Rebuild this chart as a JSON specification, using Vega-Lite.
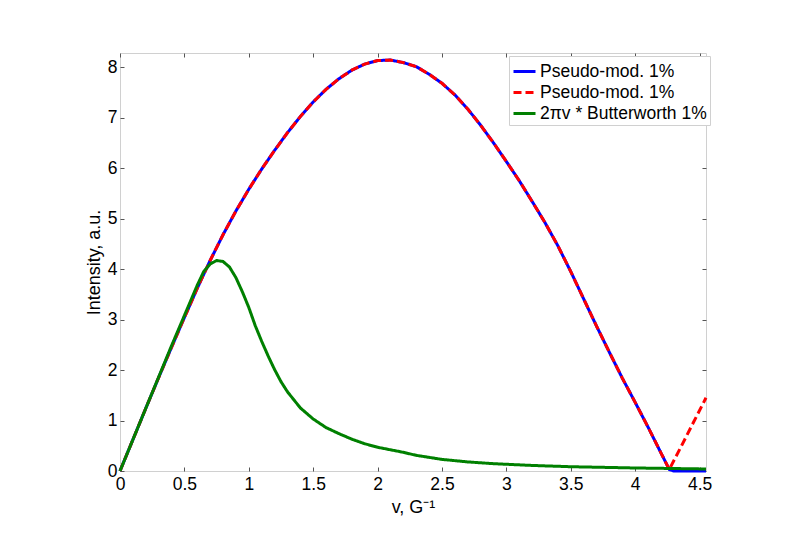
{
  "$schema": "https://vega.github.io/schema/vega-lite/v6.json",
  "width": 586,
  "height": 418,
  "autosize": {"type": "none"},
  "padding": {"left": 120, "top": 53, "right": 94, "bottom": 84},
  "background": "white",
  "config": {
    "font": "Liberation Sans",
    "view": {"stroke": "#d0d0d0", "strokeWidth": 1},
    "axis": {
      "domain": false,
      "grid": false,
      "tickColor": "#555555",
      "tickSize": -4,
      "tickWidth": 1,
      "labelFontSize": 17.5,
      "labelColor": "#000000",
      "titleFontSize": 18,
      "titleFontWeight": "normal",
      "titleColor": "#000000",
      "labelFont": "Liberation Sans",
      "titleFont": "Liberation Sans"
    }
  },
  "datasets": {
    "blue": [
      {"x": 0, "y": 0, "s": "s1"}, {"x": 0.1, "y": 0.62, "s": "s1"}, {"x": 0.2, "y": 1.24, "s": "s1"}, {"x": 0.3, "y": 1.85, "s": "s1"}, {"x": 0.4, "y": 2.45, "s": "s1"}, {"x": 0.5, "y": 3.04, "s": "s1"}, {"x": 0.6, "y": 3.62, "s": "s1"}, {"x": 0.7, "y": 4.17, "s": "s1"}, {"x": 0.8, "y": 4.68, "s": "s1"}, {"x": 0.9, "y": 5.15, "s": "s1"}, {"x": 1.0, "y": 5.58, "s": "s1"}, {"x": 1.1, "y": 5.98, "s": "s1"}, {"x": 1.2, "y": 6.35, "s": "s1"}, {"x": 1.3, "y": 6.70, "s": "s1"}, {"x": 1.4, "y": 7.02, "s": "s1"}, {"x": 1.5, "y": 7.31, "s": "s1"}, {"x": 1.6, "y": 7.56, "s": "s1"}, {"x": 1.7, "y": 7.77, "s": "s1"}, {"x": 1.8, "y": 7.94, "s": "s1"}, {"x": 1.9, "y": 8.06, "s": "s1"}, {"x": 2.0, "y": 8.13, "s": "s1"}, {"x": 2.1, "y": 8.14, "s": "s1"}, {"x": 2.2, "y": 8.09, "s": "s1"}, {"x": 2.3, "y": 8.01, "s": "s1"}, {"x": 2.4, "y": 7.86, "s": "s1"}, {"x": 2.5, "y": 7.68, "s": "s1"}, {"x": 2.6, "y": 7.45, "s": "s1"}, {"x": 2.7, "y": 7.17, "s": "s1"}, {"x": 2.8, "y": 6.85, "s": "s1"}, {"x": 2.9, "y": 6.50, "s": "s1"}, {"x": 3.0, "y": 6.13, "s": "s1"}, {"x": 3.1, "y": 5.75, "s": "s1"}, {"x": 3.2, "y": 5.34, "s": "s1"}, {"x": 3.3, "y": 4.92, "s": "s1"}, {"x": 3.4, "y": 4.46, "s": "s1"}, {"x": 3.5, "y": 3.95, "s": "s1"}, {"x": 3.6, "y": 3.41, "s": "s1"}, {"x": 3.7, "y": 2.87, "s": "s1"}, {"x": 3.8, "y": 2.35, "s": "s1"}, {"x": 3.9, "y": 1.84, "s": "s1"}, {"x": 4.0, "y": 1.36, "s": "s1"}, {"x": 4.1, "y": 0.87, "s": "s1"}, {"x": 4.2, "y": 0.36, "s": "s1"}, {"x": 4.265, "y": 0.03, "s": "s1"}, {"x": 4.3, "y": 0.0, "s": "s1"}, {"x": 4.55, "y": 0.0, "s": "s1"}
    ],
    "red": [
      {"x": 0, "y": 0, "s": "s2"}, {"x": 0.1, "y": 0.62, "s": "s2"}, {"x": 0.2, "y": 1.24, "s": "s2"}, {"x": 0.3, "y": 1.85, "s": "s2"}, {"x": 0.4, "y": 2.45, "s": "s2"}, {"x": 0.5, "y": 3.04, "s": "s2"}, {"x": 0.6, "y": 3.62, "s": "s2"}, {"x": 0.7, "y": 4.17, "s": "s2"}, {"x": 0.8, "y": 4.68, "s": "s2"}, {"x": 0.9, "y": 5.15, "s": "s2"}, {"x": 1.0, "y": 5.58, "s": "s2"}, {"x": 1.1, "y": 5.98, "s": "s2"}, {"x": 1.2, "y": 6.35, "s": "s2"}, {"x": 1.3, "y": 6.70, "s": "s2"}, {"x": 1.4, "y": 7.02, "s": "s2"}, {"x": 1.5, "y": 7.31, "s": "s2"}, {"x": 1.6, "y": 7.56, "s": "s2"}, {"x": 1.7, "y": 7.77, "s": "s2"}, {"x": 1.8, "y": 7.94, "s": "s2"}, {"x": 1.9, "y": 8.06, "s": "s2"}, {"x": 2.0, "y": 8.13, "s": "s2"}, {"x": 2.1, "y": 8.14, "s": "s2"}, {"x": 2.2, "y": 8.09, "s": "s2"}, {"x": 2.3, "y": 8.01, "s": "s2"}, {"x": 2.4, "y": 7.86, "s": "s2"}, {"x": 2.5, "y": 7.68, "s": "s2"}, {"x": 2.6, "y": 7.45, "s": "s2"}, {"x": 2.7, "y": 7.17, "s": "s2"}, {"x": 2.8, "y": 6.85, "s": "s2"}, {"x": 2.9, "y": 6.50, "s": "s2"}, {"x": 3.0, "y": 6.13, "s": "s2"}, {"x": 3.1, "y": 5.75, "s": "s2"}, {"x": 3.2, "y": 5.34, "s": "s2"}, {"x": 3.3, "y": 4.92, "s": "s2"}, {"x": 3.4, "y": 4.46, "s": "s2"}, {"x": 3.5, "y": 3.95, "s": "s2"}, {"x": 3.6, "y": 3.41, "s": "s2"}, {"x": 3.7, "y": 2.87, "s": "s2"}, {"x": 3.8, "y": 2.35, "s": "s2"}, {"x": 3.9, "y": 1.84, "s": "s2"}, {"x": 4.0, "y": 1.36, "s": "s2"}, {"x": 4.1, "y": 0.87, "s": "s2"}, {"x": 4.2, "y": 0.36, "s": "s2"}, {"x": 4.265, "y": 0.03, "s": "s2"}, {"x": 4.35, "y": 0.45, "s": "s2"}, {"x": 4.45, "y": 0.95, "s": "s2"}, {"x": 4.55, "y": 1.45, "s": "s2"}
    ],
    "green": [
      {"x": 0, "y": 0, "s": "s3"}, {"x": 0.1, "y": 0.62, "s": "s3"}, {"x": 0.2, "y": 1.24, "s": "s3"}, {"x": 0.3, "y": 1.86, "s": "s3"}, {"x": 0.4, "y": 2.48, "s": "s3"}, {"x": 0.5, "y": 3.08, "s": "s3"}, {"x": 0.6, "y": 3.68, "s": "s3"}, {"x": 0.65, "y": 3.95, "s": "s3"}, {"x": 0.7, "y": 4.10, "s": "s3"}, {"x": 0.75, "y": 4.17, "s": "s3"}, {"x": 0.8, "y": 4.15, "s": "s3"}, {"x": 0.85, "y": 4.04, "s": "s3"}, {"x": 0.9, "y": 3.83, "s": "s3"}, {"x": 0.95, "y": 3.55, "s": "s3"}, {"x": 1.0, "y": 3.24, "s": "s3"}, {"x": 1.05, "y": 2.88, "s": "s3"}, {"x": 1.1, "y": 2.57, "s": "s3"}, {"x": 1.15, "y": 2.28, "s": "s3"}, {"x": 1.2, "y": 2.01, "s": "s3"}, {"x": 1.25, "y": 1.77, "s": "s3"}, {"x": 1.3, "y": 1.57, "s": "s3"}, {"x": 1.4, "y": 1.25, "s": "s3"}, {"x": 1.5, "y": 1.03, "s": "s3"}, {"x": 1.6, "y": 0.86, "s": "s3"}, {"x": 1.7, "y": 0.74, "s": "s3"}, {"x": 1.8, "y": 0.63, "s": "s3"}, {"x": 1.9, "y": 0.54, "s": "s3"}, {"x": 2.0, "y": 0.47, "s": "s3"}, {"x": 2.1, "y": 0.42, "s": "s3"}, {"x": 2.2, "y": 0.37, "s": "s3"}, {"x": 2.3, "y": 0.31, "s": "s3"}, {"x": 2.5, "y": 0.23, "s": "s3"}, {"x": 2.7, "y": 0.18, "s": "s3"}, {"x": 2.9, "y": 0.145, "s": "s3"}, {"x": 3.2, "y": 0.11, "s": "s3"}, {"x": 3.5, "y": 0.085, "s": "s3"}, {"x": 4.0, "y": 0.06, "s": "s3"}, {"x": 4.55, "y": 0.04, "s": "s3"}
    ]
  },
  "resolve": {"axis": {"x": "independent", "y": "independent"}},
  "layer": [
    {
      "data": {"name": "blue"},
      "mark": {"type": "line", "strokeWidth": 3},
      "encoding": {
        "x": {"field": "x", "type": "quantitative", "scale": {"domain": [0, 4.55], "nice": false, "zero": false},
              "axis": {"orient": "bottom", "title": "v, G⁻¹", "values": [0, 0.5, 1, 1.5, 2, 2.5, 3, 3.5, 4, 4.5], "format": "~g", "labelPadding": 8, "titlePadding": 6, "labelFlush": false}},
        "y": {"field": "y", "type": "quantitative", "scale": {"domain": [0, 8.28], "nice": false},
              "axis": {"orient": "left", "title": "Intensity, a.u.", "values": [0, 1, 2, 3, 4, 5, 6, 7, 8], "labelPadding": 7, "titlePadding": 4, "labelFlush": false}},
        "color": {"field": "s", "type": "nominal",
                  "scale": {"domain": ["s1", "s2", "s3"], "range": ["#0000ff", "#ff0000", "#008000"]},
                  "legend": {"orient": "none", "legendX": 389, "legendY": 3, "title": null,
                             "labelExpr": "datum.label == 's3' ? '2πv * Butterworth 1%' : 'Pseudo-mod. 1%'",
                             "symbolType": "stroke", "symbolSize": 484, "symbolStrokeWidth": 3,
                             "labelFontSize": 17.5, "labelFont": "Liberation Sans", "labelColor": "#000000", "labelLimit": 400,
                             "labelOffset": 3, "rowPadding": 0, "padding": 3,
                             "strokeColor": "#d0d0d0", "fillColor": "#ffffff"}},
        "strokeDash": {"field": "s", "type": "nominal",
                       "scale": {"domain": ["s1", "s2", "s3"], "range": [[1, 0], [8, 4], [1, 0]]},
                       "legend": {"orient": "none", "legendX": 389, "legendY": 3, "title": null,
                             "labelExpr": "datum.label == 's3' ? '2πv * Butterworth 1%' : 'Pseudo-mod. 1%'",
                             "symbolType": "stroke", "symbolSize": 484, "symbolStrokeWidth": 3,
                             "labelFontSize": 17.5, "labelFont": "Liberation Sans", "labelColor": "#000000", "labelLimit": 400,
                             "labelOffset": 3, "rowPadding": 0, "padding": 3,
                             "strokeColor": "#d0d0d0", "fillColor": "#ffffff"}}
      }
    },
    {
      "data": {"name": "red"},
      "mark": {"type": "line", "strokeWidth": 3},
      "encoding": {
        "x": {"field": "x", "type": "quantitative", "scale": {"domain": [0, 4.55], "nice": false, "zero": false},
              "axis": {"orient": "top", "title": null, "labels": false, "values": [0, 0.5, 1, 1.5, 2, 2.5, 3, 3.5, 4, 4.5]}},
        "y": {"field": "y", "type": "quantitative", "scale": {"domain": [0, 8.28], "nice": false},
              "axis": {"orient": "right", "title": null, "labels": false, "values": [0, 1, 2, 3, 4, 5, 6, 7, 8]}},
        "color": {"field": "s", "type": "nominal"},
        "strokeDash": {"field": "s", "type": "nominal"}
      }
    },
    {
      "data": {"name": "green"},
      "mark": {"type": "line", "strokeWidth": 3},
      "encoding": {
        "x": {"field": "x", "type": "quantitative", "axis": null},
        "y": {"field": "y", "type": "quantitative", "axis": null},
        "color": {"field": "s", "type": "nominal"},
        "strokeDash": {"field": "s", "type": "nominal"}
      }
    }
  ]
}
